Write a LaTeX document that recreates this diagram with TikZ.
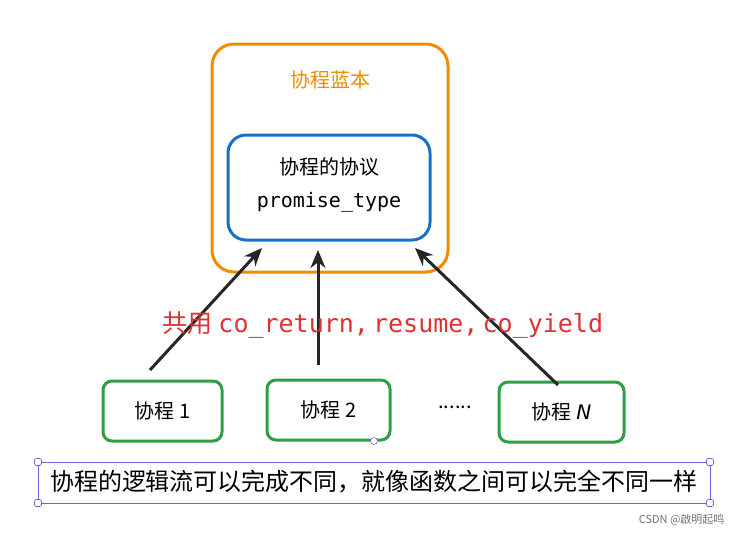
\documentclass[tikz,border=0pt]{standalone}
\usepackage{fontspec}
\setmainfont{Noto Sans CJK SC}
\newfontfamily\codefont{DejaVu Sans Mono}
\newfontfamily\latfont{DejaVu Sans}
\usetikzlibrary{arrows.meta}
\definecolor{ora}{HTML}{F08C00}
\definecolor{blu}{HTML}{1971C2}
\definecolor{grn}{HTML}{2F9E44}
\definecolor{rd}{HTML}{E03131}
\definecolor{pur}{HTML}{6965DB}
\tikzset{
  gbox/.style={draw=grn,line width=3pt,rounded corners=9pt,minimum height=60pt,font=\fontsize{20}{24}\selectfont},
  arr/.style={line width=3pt,-{Stealth[length=18pt,width=15pt]},draw=black!85},
  handle/.style={draw=pur,fill=white,line width=0.6pt,minimum size=7pt,inner sep=0pt,rounded corners=1.5pt}
}
\begin{document}
\begin{tikzpicture}[x=1pt,y=-1pt]
\useasboundingbox[fill=white] (0,0) rectangle (737,533);
\draw[ora,line width=3pt,rounded corners=22pt] (212,44) rectangle (448,272);
\node[text=ora,font=\fontsize{20}{24}\selectfont] (t) at (330,80) {协程蓝本};
\draw[blu,line width=3pt,rounded corners=18pt] (228,135) rectangle (430,240);
\node (bl) at (329,187.5) [minimum width=202pt,minimum height=105pt] {};
\node[font=\fontsize{20}{24}\selectfont] at (329,167) {协程的协议};
\node[font=\codefont\fontsize{20}{24}\selectfont] at (329,202) {promise\_type};
\node[gbox,minimum width=119pt] (a) at (162.5,411) {协程 1};
\node[gbox,minimum width=123pt] (b) at (328.5,410) {协程 2};
\node[font=\fontsize{20}{24}\selectfont] (d) at (455,407) {......};
\node[gbox,minimum width=125pt] (c) at (561.5,412) {协程 {\latfont\itshape N}};
\coordinate (a1) at (150,370); \coordinate (a2) at (262,248);
\coordinate (b1) at (318,365); \coordinate (b2) at (318,250);
\coordinate (c1) at (558,385); \coordinate (c2) at (415,248);
\draw[arr] (a1) -- (a2);
\draw[arr] (b1) -- (b2);
\draw[arr] (c1) -- (c2);
\node[text=rd,font=\fontsize{25}{30}\selectfont] (lbl) at (383,325) {共用 {\codefont co\_return,}\,{\codefont resume,}\,{\codefont co\_yield}};
\draw[pur,line width=0.6pt] (38,462) rectangle (710,503);
\node[font=\fontsize{24}{28}\selectfont] (bt) at (374,482) {协程的逻辑流可以完成不同，就像函数之间可以完全不同一样};
\foreach \p in {(38,462),(710,462),(38,503),(710,503)} \node[handle] at \p {};
\node[handle,circle] at (374,441) {};
\node[text=black!55,font=\fontsize{11}{13}\selectfont,anchor=east] (wm) at (728,520) {CSDN @啟明起鸣};
\end{tikzpicture}
\end{document}
